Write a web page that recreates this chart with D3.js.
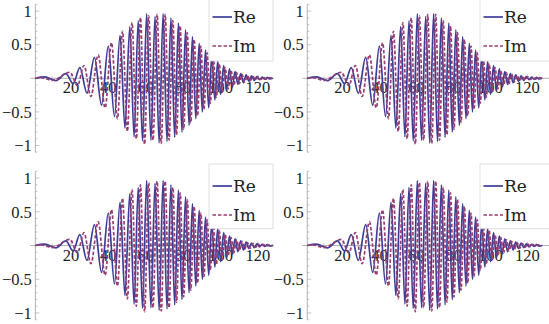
<!DOCTYPE html>
<html>
<head>
<meta charset="utf-8">
<script src="https://cdn.jsdelivr.net/npm/d3@7"></script>
<style>
  body { margin: 0; background: #fff; }
  svg { display: block; }
  .tk { font-family: 'Liberation Serif'; }
  .lg { font-family: 'DejaVu Serif'; }
</style>
</head>
<body>
<div id="chart"></div>
<script>
const reX = [1, 6, 12, 17.3, 21.2, 24.8, 28.6, 32.6, 36.4, 40.0, 43.3, 46.3, 48.9, 51.5, 53.8, 56.0, 58.3, 60.5,
  62.8, 65.0, 67.2, 69.3, 71.4, 73.5, 75.5, 77.5, 79.4, 81.3, 83.2, 85.0, 86.8, 88.6, 90.3, 92.0, 93.7, 95.3,
  97.0, 98.5, 100.1, 101.7, 103.3, 104.8, 106.3, 107.8, 109.3, 110.8, 112.3, 113.7, 115.2, 116.6, 118.1,
  119.5, 120.9, 122.3, 123.7, 125.0, 126.4, 128];
const reY = [0, 0.02, -0.035, 0.07, -0.08, 0.16, -0.22, 0.31, -0.40, 0.48, -0.57, 0.64, -0.74, 0.77, -0.87, 0.86,
  -0.93, 0.96, -0.92, 0.92, -0.96, 0.96, -0.94, 0.90, -0.88, 0.82, -0.80, 0.72, -0.70, 0.62, -0.60, 0.52,
  -0.50, 0.42, -0.44, 0.33, -0.32, 0.25, -0.24, 0.19, -0.18, 0.14, -0.13, 0.10, -0.09, 0.07, -0.065, 0.05,
  -0.045, 0.035, -0.03, 0.025, -0.02, 0.018, -0.014, 0.012, -0.01, 0];

// extrema of the imaginary part
const imX = [1, 4, 10, 19.5, 23.5, 27.0, 30.7, 34.6, 38.3, 41.7, 44.9, 47.6, 50.2, 52.7, 55.0, 57.2, 59.4, 61.6,
  63.9, 66.1, 68.3, 70.4, 72.5, 74.5, 76.5, 78.4, 80.3, 82.2, 84.1, 85.9, 87.7, 89.5, 91.1, 92.9, 94.5, 96.2,
  97.8, 99.3, 100.9, 102.5, 104.1, 105.6, 107.1, 108.6, 110.1, 111.5, 113.0, 114.4, 115.9, 117.3, 118.8,
  120.2, 121.6, 123.0, 124.4, 125.7, 128];
const imY = [0, 0.01, -0.03, 0.09, -0.11, 0.19, -0.27, 0.35, -0.44, 0.53, -0.60, 0.70, -0.79, 0.83, -0.90, 0.90,
  -0.98, 0.93, -0.92, 0.95, -0.97, 0.95, -0.92, 0.86, -0.84, 0.78, -0.76, 0.68, -0.66, 0.58, -0.56, 0.48,
  -0.46, 0.38, -0.37, 0.29, -0.28, 0.22, -0.21, 0.16, -0.155, 0.12, -0.11, 0.085, -0.08, 0.06, -0.055,
  0.042, -0.038, 0.03, -0.026, 0.022, -0.018, 0.015, -0.012, 0.01, 0];

const xTicks = [20, 40, 60, 80, 100, 120];
const yTicks = [-1, -0.5, 0.5, 1];
const seriesNames = ['Re', 'Im'];

const W = 549, H = 324;
const reColor = '#3d3d99', imColor = '#993d71';

// layout of the four panels
const panels = [
  { x0: 33.5, kx: 1.87, xEnd: 274, y0: 78.3, ky: 67.2, legX: 209, legR: 273, legTop: -5, legBot: 61, legY: 17 },
  { x0: 305.4, kx: 1.85, xEnd: 549, y0: 78.3, ky: 67.2, legX: 480, legR: 552, legTop: -5, legBot: 61, legY: 17 },
  { x0: 33.5, kx: 1.87, xEnd: 274, y0: 245.5, ky: 67.5, legX: 209, legR: 273, legTop: 164, legBot: 228.7, legY: 186 },
  { x0: 305.4, kx: 1.85, xEnd: 549, y0: 245.5, ky: 67.5, legX: 480, legR: 552, legTop: 164, legBot: 228.7, legY: 186 }
];

const svg = d3.select('#chart').append('svg')
  .attr('width', W).attr('height', H);

const rePts = d3.zip(reX, reY);
const imPts = d3.zip(imX, imY);

panels.forEach(p => {
  const x = d3.scaleLinear().domain([0, 128]).range([p.x0, p.x0 + 128 * p.kx]);
  const y = d3.scaleLinear().domain([-1, 1]).range([p.y0 + p.ky, p.y0 - p.ky]);
  const g = svg.append('g');
  const axisColor = '#a0a0a0';

  // axes lines
  const xa = x(1);
  g.append('line').attr('x1', xa - 5).attr('x2', p.xEnd).attr('y1', y(0)).attr('y2', y(0))
    .attr('stroke', axisColor).attr('stroke-width', 0.8);
  g.append('line').attr('x1', xa).attr('x2', xa).attr('y1', y(1.1)).attr('y2', y(-1.1))
    .attr('stroke', axisColor).attr('stroke-width', 0.8);

  // y ticks (major + minor)
  d3.range(-11, 12).forEach(i => {
    if (i === 0) return;
    const major = i % 5 === 0;
    g.append('line').attr('x1', xa).attr('x2', xa + (major ? 4 : 2))
      .attr('y1', y(i / 10)).attr('y2', y(i / 10))
      .attr('stroke', axisColor).attr('stroke-width', 0.6);
  });
  // x ticks
  d3.range(5, 130, 5).forEach(v => {
    const major = v % 20 === 0;
    g.append('line').attr('x1', x(v)).attr('x2', x(v))
      .attr('y1', y(0)).attr('y2', y(0) - (major ? 4 : 2))
      .attr('stroke', axisColor).attr('stroke-width', 0.6);
  });

  g.selectAll('.yl').data(yTicks).enter().append('text')
    .attr('class', 'tk')
    .attr('x', xa - 3.5).attr('y', d => y(d)).attr('dy', '0.35em')
    .attr('text-anchor', 'end').attr('font-size', 16.5).attr('fill', '#222')
    .text(d => d3.format('')(d).replace('-', '\u2212'));

  g.selectAll('.xl').data(xTicks).enter().append('text')
    .attr('class', 'tk')
    .attr('x', d => x(d)).attr('y', y(0) + 15)
    .attr('text-anchor', 'middle').attr('font-size', 16.5).attr('fill', '#222')
    .text(d => d);

  const line = d3.line().x(d => x(d[0])).y(d => y(d[1])).curve(d3.curveMonotoneX);

  g.append('path').attr('d', line(rePts)).attr('fill', 'none')
    .attr('stroke', reColor).attr('stroke-width', 1.7);
  g.append('path').attr('d', line(imPts)).attr('fill', 'none')
    .attr('stroke', imColor).attr('stroke-width', 1.7).attr('stroke-dasharray', '3.5,2');

  // legend
  g.append('rect').attr('x', p.legX).attr('y', p.legTop)
    .attr('width', p.legR - p.legX).attr('height', p.legBot - p.legTop)
    .attr('fill', '#fff').attr('stroke', '#d8d8d8').attr('stroke-width', 0.8);
  seriesNames.forEach((name, i) => {
    const ly = p.legY + i * 29;
    g.append('line').attr('x1', p.legX + 3.5).attr('x2', p.legX + 23)
      .attr('y1', ly).attr('y2', ly)
      .attr('stroke', i === 0 ? reColor : imColor).attr('stroke-width', 1.7)
      .attr('stroke-dasharray', i === 0 ? null : '3.5,2');
    g.append('text').attr('class', 'lg')
      .attr('x', p.legX + 24).attr('y', ly + 5.5)
      .attr('font-size', 17).attr('fill', '#222')
      .text(name);
  });
});
</script>
</body>
</html>
